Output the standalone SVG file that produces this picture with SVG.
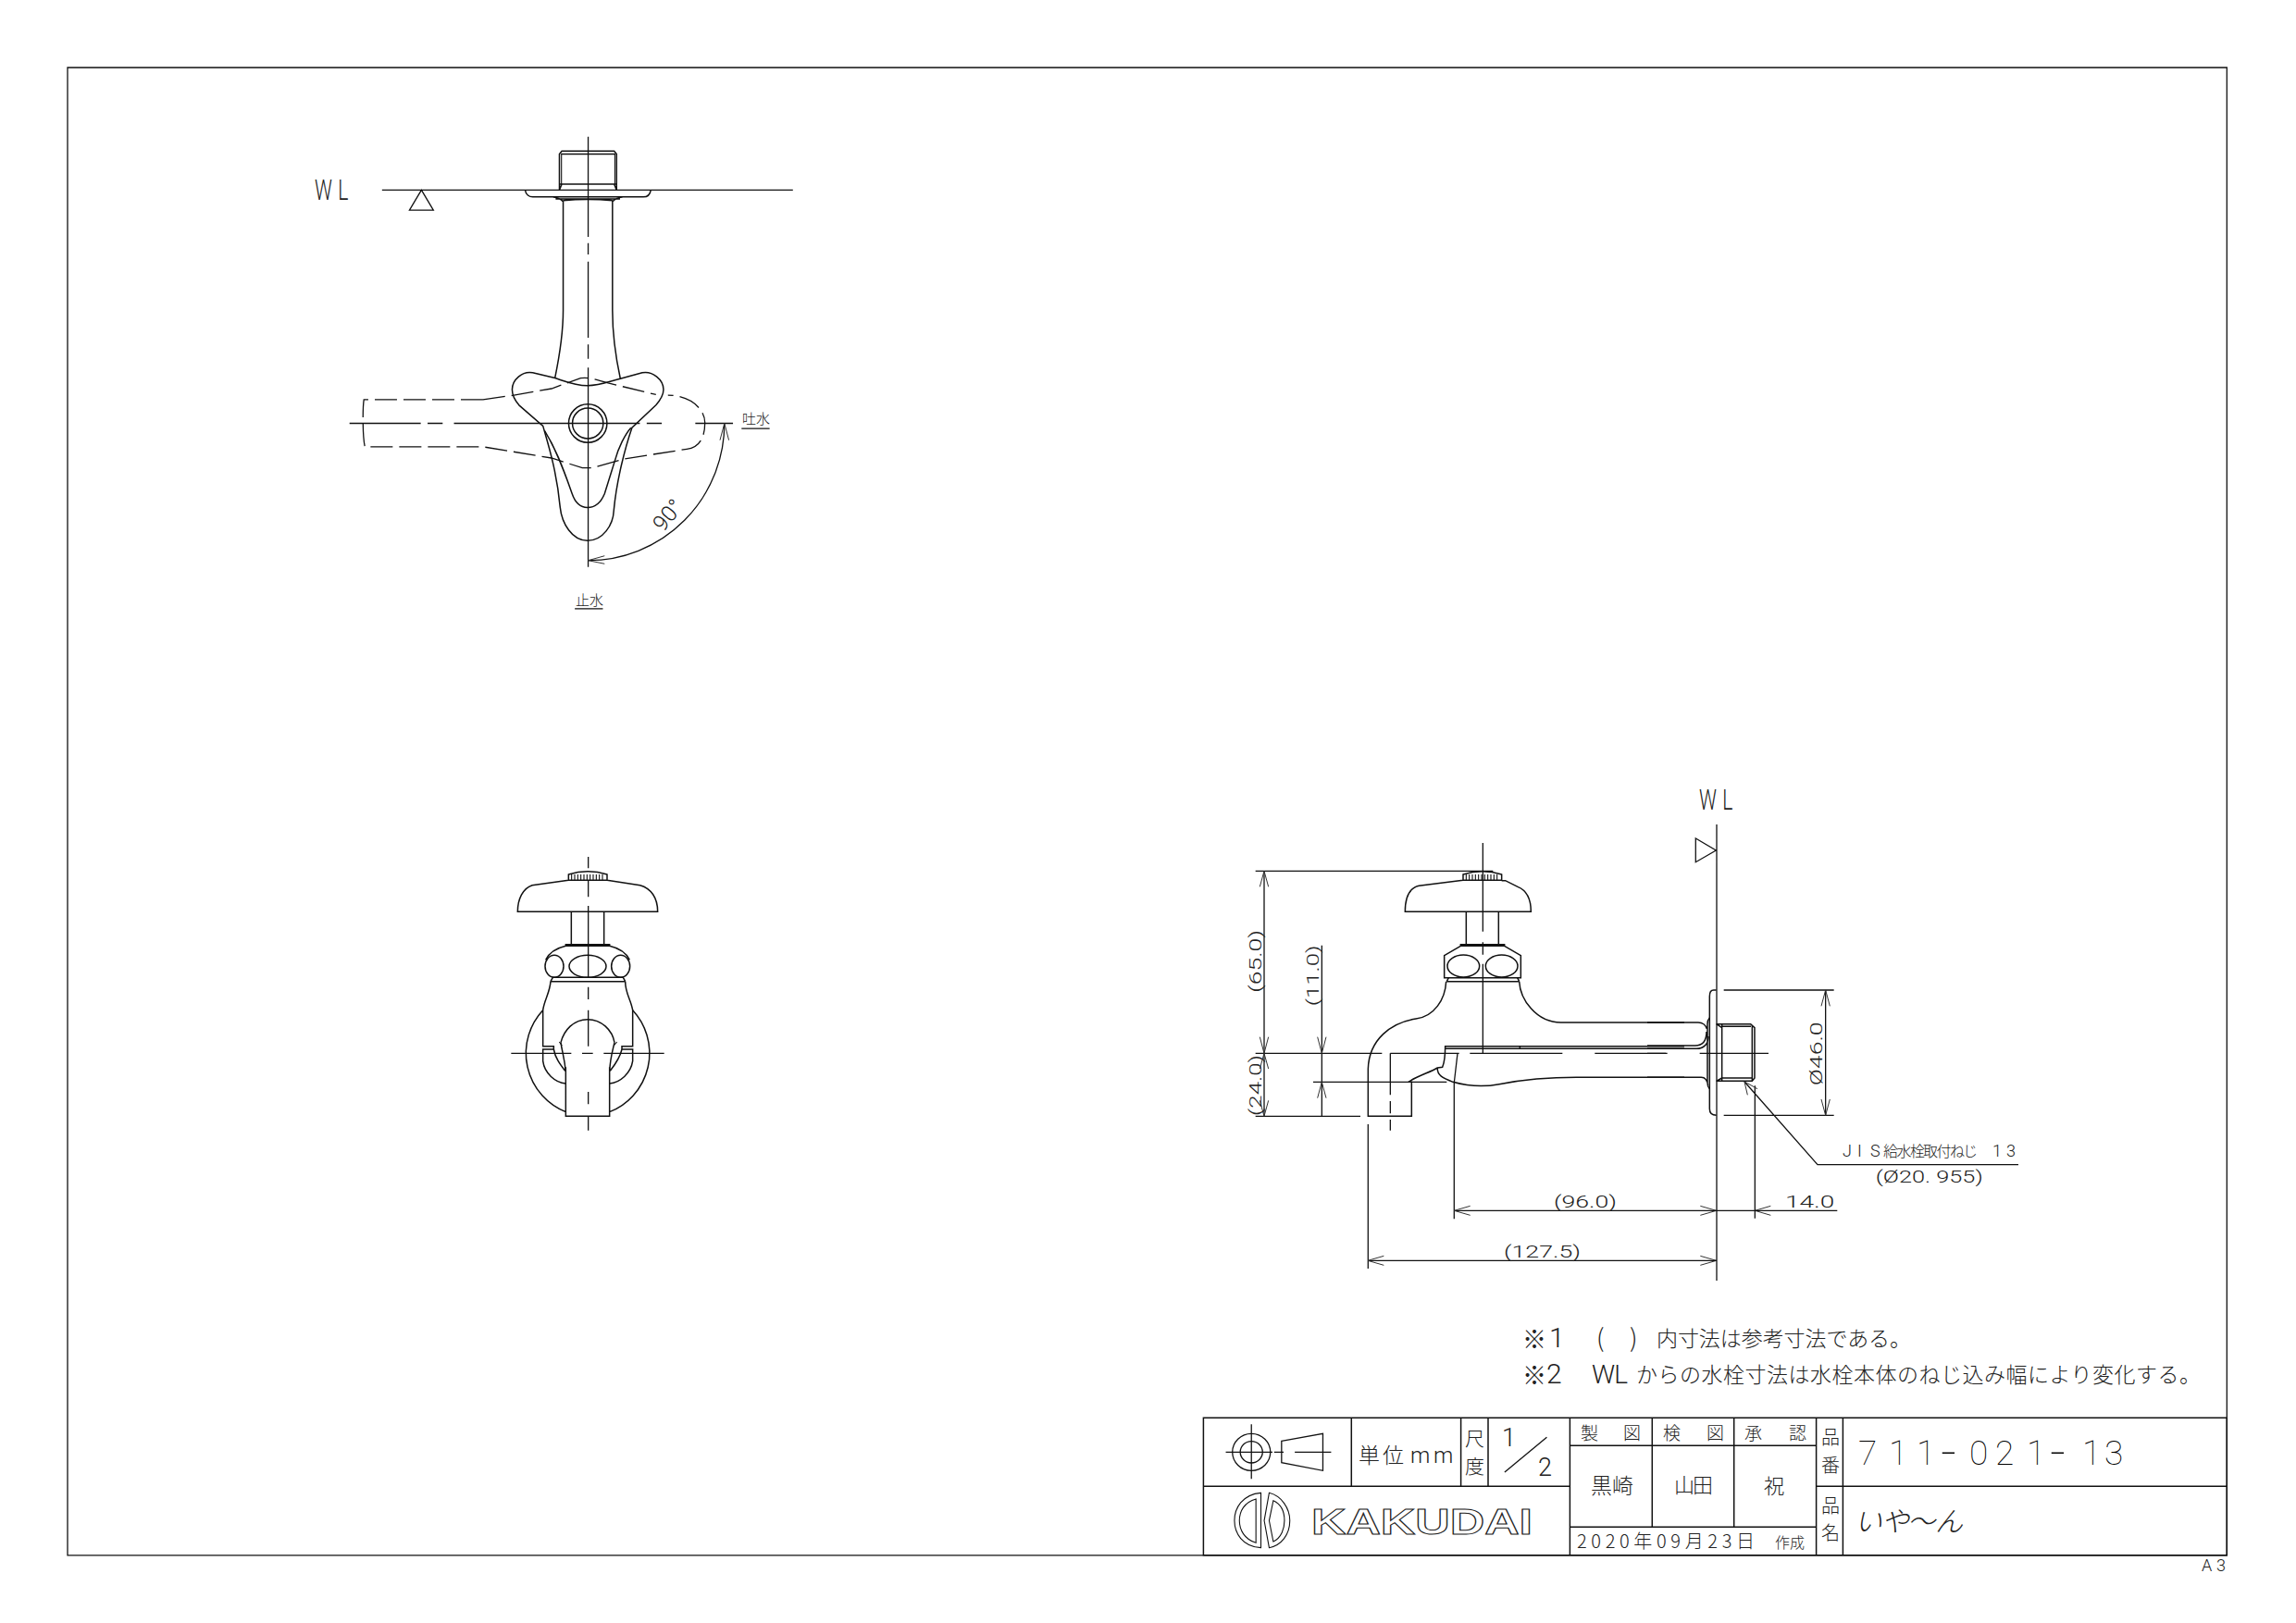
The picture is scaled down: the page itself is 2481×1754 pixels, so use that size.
<svg xmlns="http://www.w3.org/2000/svg" width="2481" height="1754" viewBox="0 0 2481 1754">
<style>
.l{fill:none;stroke:#111;stroke-width:1.5;vector-effect:non-scaling-stroke}
.d{fill:none;stroke:#111;stroke-width:1.3;vector-effect:non-scaling-stroke}
.a{fill:none;stroke:#333;stroke-width:1;vector-effect:non-scaling-stroke}
.h{fill:none;stroke:#111;stroke-width:1.3;stroke-dasharray:24 7;vector-effect:non-scaling-stroke}
.g{fill:none;stroke:#111;stroke-width:1.1;vector-effect:non-scaling-stroke}
text{font-family:Roboto,"Noto Sans CJK JP",sans-serif;font-weight:300;fill:#222}
.j{font-family:"Noto Sans CJK JP",sans-serif;font-weight:300;fill:#222}
.n{font-size:19px}
</style>
<rect width="2481" height="1754" fill="#fff"/>
<g id="frame"><rect class="d" x="73" y="73" width="2333.3" height="1607.8"/></g>

<g id="view-top">
<g transform="translate(300,130) scale(.36996,.35714)">
<path class="l" d="M823 211V102L830 93H983L990 102V211M829 102H984M823 193H990M830 193L823 211M983 193L990 211"/>
<path class="g" d="M829 100V193M985 100V193"/>
<path class="l" d="M723 211C725 225 735 232 745 232H1068C1080 232 1088 225 1090 211"/>
<path class="l" d="M805 232C818 234 828 240 834 246V575C834 650 822 720 810 780M1007 232C994 234 984 240 978 246V575C978 650 988 720 1001 782M834 243C880 238 930 238 978 243M812 238H1000"/>
<path class="l" d="M905 803C870 803 840 790 810 780L745 764C715 758 685 785 685 815C685 835 695 850 705 862L775 925C790 980 815 1060 825 1170C830 1220 860 1272 905 1272C950 1272 980 1225 982 1180C990 1090 1015 990 1035 930L1105 862C1115 850 1127 835 1127 815C1127 785 1095 758 1065 764L1001 782C970 790 940 803 905 803Z"/>
<path class="l" d="M780 940C810 990 830 1040 860 1130C870 1160 885 1172 905 1172C930 1172 945 1155 955 1130L985 1030C995 990 1015 950 1032 930"/>
<ellipse class="l" cx="906" cy="917" rx="56" ry="58"/>
<ellipse class="l" cx="906" cy="917" rx="45" ry="46"/>
<path class="h" d="M600 845H252C248 870 248 960 255 988H600L800 1022L890 1052H920L1010 1025L1195 995C1235 990 1248 955 1248 915C1248 870 1200 832 1140 832M600 845L690 832L800 812L885 780C905 778 920 780 965 795L1105 830"/>
<path class="d" d="M907 50V353M907 372V406M907 428V658M907 678V722M907 748V1352M210 917H418M438 917H482M515 917H1058M1078 917H1122M1220 917H1330"/>
<path class="d" d="M305 211H1505M385 272L420 211L455 272Z"/>
<path class="d" d="M1305 917A398 415 0 0 1 907 1332"/>
<path class="a" d="M1292 968L1305 917L1318 968M955 1318L907 1332L955 1342"/>
<path class="d" d="M1355 933H1437M868 1478H950"/>
</g>
<text transform="translate(340,216) scale(.68,1)" font-size="31" x="0 37">WL</text>
<text class="j" x="802" y="458" font-size="15">吐水</text>
<text class="j" x="622" y="654" font-size="15">止水</text>
<text text-anchor="middle" transform="translate(728,562) rotate(-50)" font-size="24">90°</text>
</g>

<g id="view-front" transform="translate(520,910) scale(.33333)">
<path class="l" d="M283 105Q346 85 408 105V124H283ZM283 124L165 140C135 150 118 185 118 226H572C572 180 550 150 515 140L408 124"/>
<path class="g" d="M293 105v19M303 105v19M313 105v19M323 105v19M333 105v19M343 105v19M353 105v19M363 105v19M373 105v19M383 105v19M393 105v19"/>
<path class="l" d="M292 226V332M398 226V332M274 337V332H416V337H274M274 337C240 345 220 360 209 382M416 337C450 345 470 360 481 382"/>
<ellipse class="l" cx="237" cy="403" rx="30" ry="36"/><ellipse class="l" cx="345" cy="403" rx="60" ry="36"/><ellipse class="l" cx="452" cy="403" rx="30" ry="36"/>
<path class="l" d="M230 439H462M225 452H467M225 452L232 439M467 452L460 439M225 452C222 490 205 510 200 545V662H235V672H200V710C205 750 240 780 274 783M467 452C467 490 485 510 491 545V662H456V672H491V710C485 750 450 780 416 783"/>
<path class="l" d="M200 545A205 205 0 0 0 274 875M491 545A205 205 0 0 1 416 875M274 730V889H416V730M258 650C268 610 300 575 345 575C390 575 425 610 432 650M258 650C262 680 270 700 274 745M432 650C425 680 418 700 416 745M235 672C240 700 255 720 272 742M456 672C450 700 435 720 418 742"/>
<path class="g" d="M253 648L262 660M440 648L430 660"/>
<path class="d" d="M347 48V85M347 125V178M347 207V440M347 470V510M347 545V662M347 810V850M347 890V935M97 685H292M327 685H362M397 685H593"/>
</g>

<g id="view-side">
<g transform="translate(1320,850) scale(.33333)">
<path class="l" d="M783 285Q845 265 908 285V304H783ZM783 304L640 322C612 328 595 350 595 406H1003C1003 360 985 335 960 325L920 305H908"/>
<path class="g" d="M793 285v19M803 285v19M813 285v19M823 285v19M833 285v19M843 285v19M853 285v19M863 285v19M873 285v19M883 285v19M893 285v19"/>
<path class="l" d="M793 406V512M898 406V512M775 517V512H917V517H775M775 517L722 548V620H970V548L917 517"/>
<ellipse class="l" cx="784" cy="582" rx="52" ry="36"/><ellipse class="l" cx="908" cy="582" rx="52" ry="36"/>
<path class="l" d="M730 632H965M730 632L736 620M965 632L959 620M728 632C725 690 690 745 630 753C550 765 478 820 475 915V1069H616V958H606"/>
<path class="l" d="M965 632C968 690 1020 765 1100 765H1500M606 958C630 940 680 925 700 912L716 910C722 895 725 875 725 842H1500M725 850H1500M967 842V850M700 912C698 935 715 945 750 958C800 972 850 975 900 965C980 950 1060 943 1150 943H1500"/>
<path class="d" d="M847 183V470M847 505V545M847 575V865M547 865V1000M547 1020V1060M547 1080V1115M754 960L765 865"/>
</g>
<g transform="translate(1780,1040) scale(.33333)">
<path class="l" d="M0 195H165C180 195 190 205 193 215M0 270H155C175 270 192 258 192 225M0 280H160C180 280 198 268 198 240M0 373H175C190 373 195 385 197 400M202 180C197 185 195 190 195 200V390C195 400 197 405 202 410"/>
<path class="l" d="M224 90H215C205 90 202 100 202 110V475C202 490 210 496 224 496"/>
<path class="l" d="M224 200H335L348 212V375L340 385H224M242 200V385M224 200L242 212M224 385L242 375M242 208H336M242 375H340M340 205V385"/>
</g>
</g>

<g id="connectors">
<g transform="translate(1320,850) scale(.33333)">
<path class="d" d="M138 274V1069M110 274H880M110 865H520M110 1069H450M325 515V1069M297 958H730M547 865H770M805 865H1105M1210 865H1445"/>
<path class="a" d="M124 325L138 274L152 325M124 812L138 865L152 812M124 915L138 865L152 915M124 1018L138 1069L152 1018M311 812L325 865L339 812M311 1010L325 958L339 1010"/>
</g>
<g transform="translate(1780,1040) scale(.33333)">
<path class="d" d="M0 295H60M170 295H393M349 400V830M578 90V496M248 90H605M248 496H605M1203 656H552L315 387"/>
<path class="a" d="M564 142L578 90L592 142M564 444L578 496L592 444M325 430L315 387L357 410M172 790L224 805L172 820M400 790L349 805L400 820M172 952L224 967L172 982"/>
</g>
<path class="d" d="M1855 891V1384M1832.3 906L1854.3 919L1832.3 931.7ZM1478.3 1215V1371M1571.3 1170V1317.3M1571.3 1308.3H1985.3M1478.3 1362.3H1855"/>
<g transform="translate(1470,1240) scale(.33333)">
<path class="a" d="M356 190L304 205L356 220M24 367L76 352M24 367L76 382"/>
</g>
<text transform="translate(1363.3,1072.7) rotate(-90)" class="n" textLength="67.7" lengthAdjust="spacingAndGlyphs">(65.0)</text>
<text transform="translate(1425,1087.3) rotate(-90)" class="n" textLength="65.7" lengthAdjust="spacingAndGlyphs">(11.0)</text>
<text transform="translate(1363.3,1206) rotate(-90)" class="n" textLength="66" lengthAdjust="spacingAndGlyphs">(24.0)</text>
<text transform="translate(1969,1173.3) rotate(-90)" class="n" textLength="69" lengthAdjust="spacingAndGlyphs">Ø46.0</text>
<text font-size="31" transform="translate(1836,875) scale(.68,1)" x="0 37">WL</text>
<text x="1679" y="1305" class="n" textLength="68" lengthAdjust="spacingAndGlyphs">(96.0)</text>
<text x="1625" y="1359" class="n" textLength="83" lengthAdjust="spacingAndGlyphs">(127.5)</text>
<text x="1929" y="1305" class="n" textLength="53.3" lengthAdjust="spacingAndGlyphs">14.0</text>
<text y="1250" font-size="18" x="1991 2007 2021 2035 2049.5 2064 2078 2092.5 2107 2121 2140 2153 2168">JIS<tspan class="j" font-size="16">給水栓取付ねじ</tspan> 13</text>
<text x="2026.7" y="1278" class="n" textLength="116" lengthAdjust="spacingAndGlyphs">(Ø20. 955)</text>
</g>

<g id="notes">
<text class="j" x="1645" y="1457" font-size="26">※</text>
<text x="1674" y="1456" font-size="30">1</text>
<text class="j" x="1725" y="1456" font-size="27">(</text>
<text class="j" x="1761" y="1456" font-size="27">)</text>
<text class="j" x="1790" y="1455" font-size="23" textLength="275">内寸法は参考寸法である。</text>
<text class="j" x="1645" y="1496" font-size="26">※</text>
<text x="1671" y="1495" font-size="30">2</text>
<text x="1720" y="1495" font-size="28" textLength="39">WL</text>
<text class="j" x="1768" y="1494" font-size="23" textLength="610">からの水栓寸法は水栓本体のねじ込み幅により変化する。</text>
</g>

<g id="title-block">
<path class="l" d="M1300.4 1532.3H2406.3V1680.8H1300.4ZM1300.4 1606.3H1696.4M1460.3 1532.3V1606.3M1578.6 1532.3V1606.3M1608 1532.3V1606.3M1696.4 1532.3V1680.3M1785.3 1532.3V1650.3M1873.7 1532.3V1650.3M1962.6 1532.3V1680.3M1991.4 1532.3V1680.3M1696.4 1562.3H1962.6M1696.4 1650.3H1962.6M1962.6 1606.3H2406.3"/>
<g transform="translate(1300,1530) scale(.44643,.33333)">
<ellipse class="d" cx="117" cy="118" rx="46" ry="60"/><ellipse class="d" cx="117" cy="118" rx="27" ry="35"/>
<path class="d" d="M55 118H168M195 118H172M222 118H310M117 28V205M190 82L290 58V178L190 152Z"/>
<path class="d" d="M730 183L832 70"/>
<path class="g" d="M140 250C95 255 76 300 76 340C76 380 95 425 140 428ZM128 270C100 280 88 310 88 340C88 370 100 400 128 412ZM160 250C190 260 210 300 210 340C210 385 190 420 160 428L148 340ZM170 275C195 290 197 320 197 340C197 365 190 395 170 408L160 340Z"/>
</g>
<text x="1417" y="1658" textLength="239" lengthAdjust="spacingAndGlyphs" style="font-family:'Liberation Sans',sans-serif;font-weight:700;fill:#fff;stroke:#222;stroke-width:1" font-size="38">KAKUDAI</text>
<text class="j" font-size="23" x="1468 1494" y="1581">単位</text>
<text font-size="24" x="1524 1549" y="1581">mm</text>
<text class="j" font-size="21" x="1583" y="1562">尺</text>
<text class="j" font-size="21" x="1583" y="1592">度</text>
<text font-size="27" x="1623" y="1563">1</text>
<text font-size="27" x="1662" y="1595">2</text>
<text class="j" font-size="19" x="1708 1754" y="1556">製図</text>
<text class="j" font-size="19" x="1797 1844" y="1556">検図</text>
<text class="j" font-size="19" x="1885 1933" y="1556">承認</text>
<text class="j" font-size="23" x="1719 1742" y="1614">黒崎</text>
<text class="j" font-size="22" x="1809 1829" y="1613">山田</text>
<text class="j" font-size="22" x="1906" y="1614">祝</text>
<text class="j" font-size="20" x="1704" y="1673" textLength="192">2020年09月23日</text>
<text class="j" font-size="16" x="1918" y="1673">作成</text>
<text class="j" font-size="20" x="1968" y="1561">品</text>
<text class="j" font-size="20" x="1968" y="1591">番</text>
<text class="j" font-size="20" x="1968" y="1635">品</text>
<text class="j" font-size="20" x="1968" y="1664">名</text>
<text font-size="37" style="font-weight:100;fill:#000" x="2008 2041 2071 2097 2128 2156 2190 2215 2250 2274" y="1583">711<tspan font-size="58" dy="6">-</tspan><tspan dy="-6">021</tspan><tspan font-size="58" dy="6">-</tspan><tspan dy="-6">13</tspan></text>
<text class="j" font-size="30" x="2004 2033 2061 2091" y="1655" font-style="italic">いや～ん</text>
<text font-size="18" x="2379" y="1698" textLength="26">A3</text>
</g>
</svg>
